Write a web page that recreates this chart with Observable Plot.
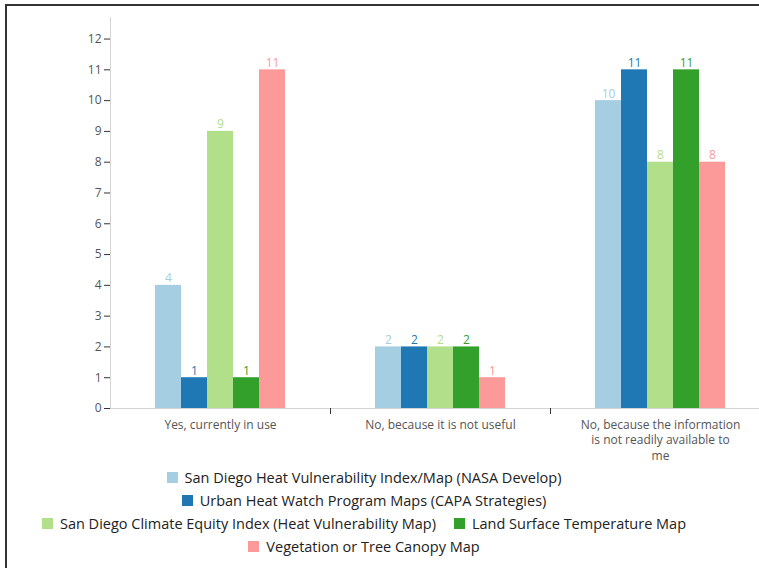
<!DOCTYPE html>
<html>
<head>
<meta charset="utf-8">
<script src="https://cdn.jsdelivr.net/npm/d3@7"></script>
<script src="https://cdn.jsdelivr.net/npm/@observablehq/plot@0.6"></script>
<style>
  html, body { margin: 0; padding: 0; background: #fff; overflow: hidden; width: 759px; height: 568px; }
  #frame { position: absolute; left: 5px; top: 4px; width: 800px; height: 600px;
           border-top: 2px solid #333; border-left: 2px solid #333; font-family: "Open Sans", sans-serif; }
  #chart svg { display: block; }
  #legend { width: 714px; display: flex; flex-wrap: wrap; justify-content: center;
            column-gap: 18px; padding-top: 0; font-size: 14.5px; color: #222; }
  .item { display: flex; align-items: center; height: 23px; white-space: nowrap; }
  .sw { width: 11px; height: 11px; margin-right: 7px; flex: none; }
</style>
</head>
<body>
<div id="frame"><div id="chart"></div><div id="legend"></div></div>
<script>
const categories = [
  "Yes, currently in use",
  "No, because it is not useful",
  "No, because the information is not readily available to me"
];
const tickLabels = [
  "Yes, currently in use",
  "No, because it is not useful",
  "No, because the information\nis not readily available to\nme"
];
const seriesNames = [
  "San Diego Heat Vulnerability Index/Map (NASA Develop)",
  "Urban Heat Watch Program Maps (CAPA Strategies)",
  "San Diego Climate Equity Index (Heat Vulnerability Map)",
  "Land Surface Temperature Map",
  "Vegetation or Tree Canopy Map"
];
const seriesColors = ["#a6cee3", "#1f78b4", "#b2df8a", "#33a02c", "#fb9a99"];
const nasaDevelop   = [4, 2, 10];
const urbanHeat     = [1, 2, 11];
const climateEquity = [9, 2, 8];
const landSurface   = [1, 2, 11];
const vegetation    = [11, 1, 8];
const yTicks = [0,1,2,3,4,5,6,7,8,9,10,11,12];

const seriesValues = [nasaDevelop, urbanHeat, climateEquity, landSurface, vegetation];
const rows = [];
categories.forEach((c, ci) => seriesNames.forEach((s, si) => rows.push({category: c, series: s, value: seriesValues[si][ci]})));
const labelOf = new Map(categories.map((c, i) => [c, tickLabels[i]]));

const chart = Plot.plot({
  width: 763,
  height: 460,
  marginLeft: 103,
  marginRight: 0,
  marginTop: 11,
  marginBottom: 58,
  style: {fontFamily: "Open Sans, sans-serif", fontSize: "12px", background: "transparent"},
  fx: {domain: categories, padding: 0, axis: null},
  x: {domain: seriesNames, paddingInner: 0, paddingOuter: 1.6, axis: null},
  y: {domain: [0, 12.7], axis: null},
  color: {domain: seriesNames, range: seriesColors},
  marks: [
    Plot.frame({anchor: "left", facet: "super", stroke: "#d4d4d4"}),
    Plot.axisY({ticks: yTicks, tickSize: 6, tickPadding: 3, stroke: "#333", fill: "#555", label: null, fontSize: 12}),
    Plot.barY(rows, {fx: "category", x: "series", y: "value", fill: "series"}),
    Plot.text(rows, {fx: "category", x: "series", y: "value", text: d => String(d.value), fill: "series",
                     lineAnchor: "bottom", dy: -3, fontSize: 12}),
    Plot.frame({anchor: "bottom", facet: "super", stroke: "#d4d4d4"}),
    Plot.axisFx({anchor: "bottom", ticks: categories.slice(1), tickSize: 6, dx: -110, tickFormat: () => "", stroke: "#333", label: null}),
    Plot.axisFx({anchor: "bottom", tickSize: 0, tickPadding: 9, tickFormat: d => labelOf.get(d), fill: "#555", label: null,
                 lineHeight: 1.3, fontSize: 12})
  ]
});
document.getElementById("chart").appendChild(chart);

const legend = document.getElementById("legend");
seriesNames.forEach((s, i) => {
  const it = document.createElement("div");
  it.className = "item";
  const sw = document.createElement("span");
  sw.className = "sw";
  sw.style.background = seriesColors[i];
  const tx = document.createElement("span");
  tx.textContent = s;
  it.appendChild(sw); it.appendChild(tx);
  legend.appendChild(it);
});
</script>
</body>
</html>
